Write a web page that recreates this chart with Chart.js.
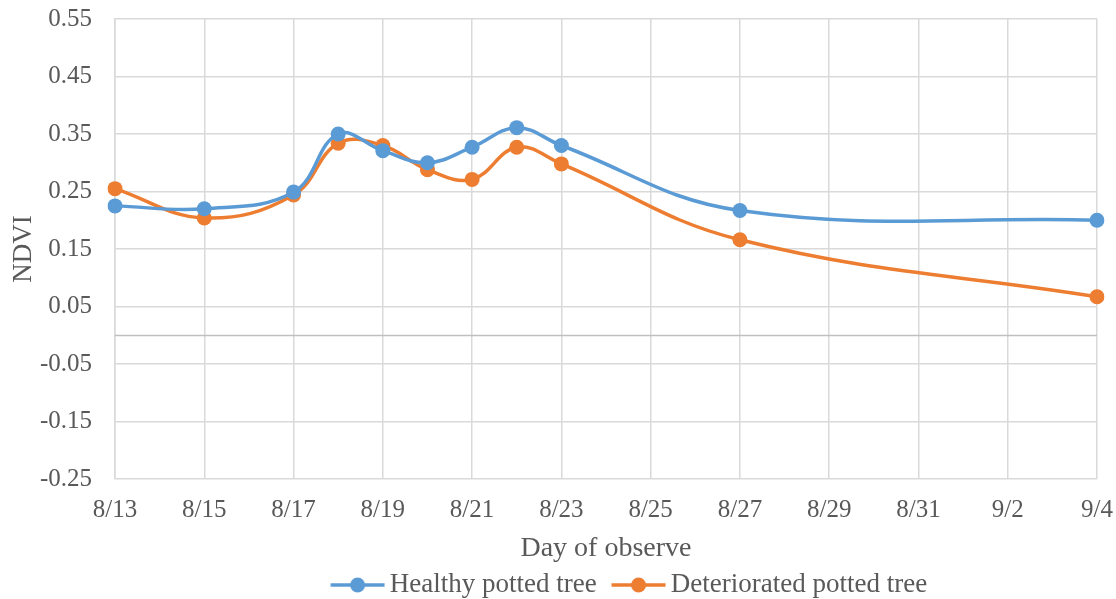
<!DOCTYPE html>
<html>
<head>
<meta charset="utf-8">
<script src="https://cdn.jsdelivr.net/npm/chart.js@4.4.1/dist/chart.umd.min.js"></script>
<style>
  html, body { margin: 0; padding: 0; background: #fff; }
  #wrap { width: 1116px; height: 599px; position: relative; }
</style>
</head>
<body>
<div id="wrap"><canvas id="c" width="1116" height="599"></canvas></div>
<script>
// Observation calendar (every day from 8/13 to 9/4)
const days = ['8/13','8/14','8/15','8/16','8/17','8/18','8/19','8/20','8/21','8/22','8/23','8/24',
              '8/25','8/26','8/27','8/28','8/29','8/30','8/31','9/1','9/2','9/3','9/4'];
// Days on which NDVI was measured
const observedDays = ['8/13','8/15','8/17','8/18','8/19','8/20','8/21','8/22','8/23','8/27','9/4'];
const healthy      = [0.225, 0.220, 0.249, 0.350, 0.321, 0.300, 0.327, 0.361, 0.330, 0.217, 0.200];
const deteriorated = [0.255, 0.204, 0.244, 0.334, 0.330, 0.288, 0.271, 0.327, 0.298, 0.166, 0.067];
const yTicks = [-0.25, -0.15, -0.05, 0.05, 0.15, 0.25, 0.35, 0.45, 0.55];

const BLUE = '#5B9BD5', ORANGE = '#ED7D31';
const TEXT = '#595959', GRID = '#D9D9D9';
const FONT = 'Liberation Serif, "Times New Roman", serif';

function toSeries(values) {
  return days.map(d => {
    const i = observedDays.indexOf(d);
    return i >= 0 ? values[i] : null;
  });
}

// Legend marker: a short line with a dot in the middle, with blank lead-in space
const MARK_BOX = 58.5;              // legend box width
function legendMarker(color) {
  const cv = document.createElement('canvas');
  cv.width = 76; cv.height = 20;
  const g = cv.getContext('2d');
  g.strokeStyle = color; g.lineWidth = 3.5;
  g.beginPath(); g.moveTo(21.5, 10); g.lineTo(75.5, 10); g.stroke();
  g.fillStyle = color;
  g.beginPath(); g.arc(48.5, 10, 7.5, 0, Math.PI * 2); g.fill();
  return cv;
}

// Horizontal reference line at NDVI = 0
const zeroLine = {
  id: 'zeroLine',
  beforeDatasetsDraw(chart) {
    const { ctx, chartArea, scales } = chart;
    const y = Math.round(scales.y.getPixelForValue(0)) + 0.5;
    ctx.save();
    ctx.strokeStyle = '#BFBFBF';
    ctx.lineWidth = 1.5;
    ctx.beginPath();
    ctx.moveTo(chartArea.left, y);
    ctx.lineTo(chartArea.right, y);
    ctx.stroke();
    ctx.restore();
  }
};

// Nudge the legend row to the right of the canvas centre
const legendShift = {
  id: 'legendShift',
  afterLayout(chart) {
    const l = chart.legend;
    if (l) { l.left += 74; l.right += 74; }
  }
};

const lineStyle = {
  borderWidth: 3.5, pointRadius: 7.5, pointHoverRadius: 7.5,
  pointBorderWidth: 0, tension: 0.4, spanGaps: true, pointStyle: 'circle'
};

new Chart(document.getElementById('c'), {
  type: 'line',
  data: {
    labels: days,
    datasets: [
      Object.assign({ label: 'Healthy potted tree', data: toSeries(healthy),
        borderColor: BLUE, backgroundColor: BLUE }, lineStyle),
      Object.assign({ label: 'Deteriorated potted tree', data: toSeries(deteriorated),
        borderColor: ORANGE, backgroundColor: ORANGE }, lineStyle)
    ]
  },
  options: {
    responsive: false,
    animation: false,
    layout: { padding: { top: 19, right: 19, left: 0, bottom: -9.5 } },
    plugins: {
      tooltip: { enabled: false },
      legend: {
        position: 'bottom',
        labels: {
          font: { family: FONT, size: 27 },
          color: TEXT,
          usePointStyle: true,
          pointStyleWidth: MARK_BOX,
          padding: 2,
          generateLabels(chart) {
            return chart.data.datasets.map((ds, i) => ({
              text: ds.label,
              pointStyle: legendMarker(ds.borderColor),
              fillStyle: ds.borderColor,
              strokeStyle: ds.borderColor,
              lineWidth: 0,
              fontColor: TEXT,
              datasetIndex: i,
              hidden: false
            }));
          }
        }
      }
    },
    scales: {
      x: {
        offset: false,
        afterFit(scale) {
          scale.height = 90.5;
          scale.paddingLeft = 0;
          scale.paddingRight = 0;
        },
        grid: {
          color: ctx => (ctx.index % 2 === 0 ? GRID : 'rgba(0,0,0,0)'),
          lineWidth: 1.5,
          drawTicks: false
        },
        border: { display: false },
        ticks: {
          autoSkip: false, maxRotation: 0,
          padding: 16,
          font: { family: FONT, size: 25 }, color: TEXT,
          callback: (v, i) => (i % 2 === 0 ? days[i] : '')
        },
        title: {
          display: true, text: 'Day of observe',
          font: { family: FONT, size: 28 }, color: TEXT,
          padding: { top: 4, bottom: 4 }
        }
      },
      y: {
        min: -0.25, max: 0.55,
        afterBuildTicks(scale) { scale.ticks = yTicks.map(v => ({ value: v })); },
        afterFit(scale) {
          scale.width = 115;
          scale.paddingTop = 0;
          scale.paddingBottom = 0;
        },
        grid: { color: GRID, lineWidth: 1.5, drawTicks: false },
        border: { display: true, color: GRID, width: 1.5 },
        ticks: {
          padding: 23,
          font: { family: FONT, size: 25 }, color: TEXT,
          callback: v => v.toFixed(2)
        },
        title: {
          display: true, text: 'NDVI',
          font: { family: FONT, size: 27 }, color: TEXT,
          padding: { top: 8, bottom: 0 }
        }
      }
    }
  },
  plugins: [zeroLine, legendShift]
});
</script>
</body>
</html>
